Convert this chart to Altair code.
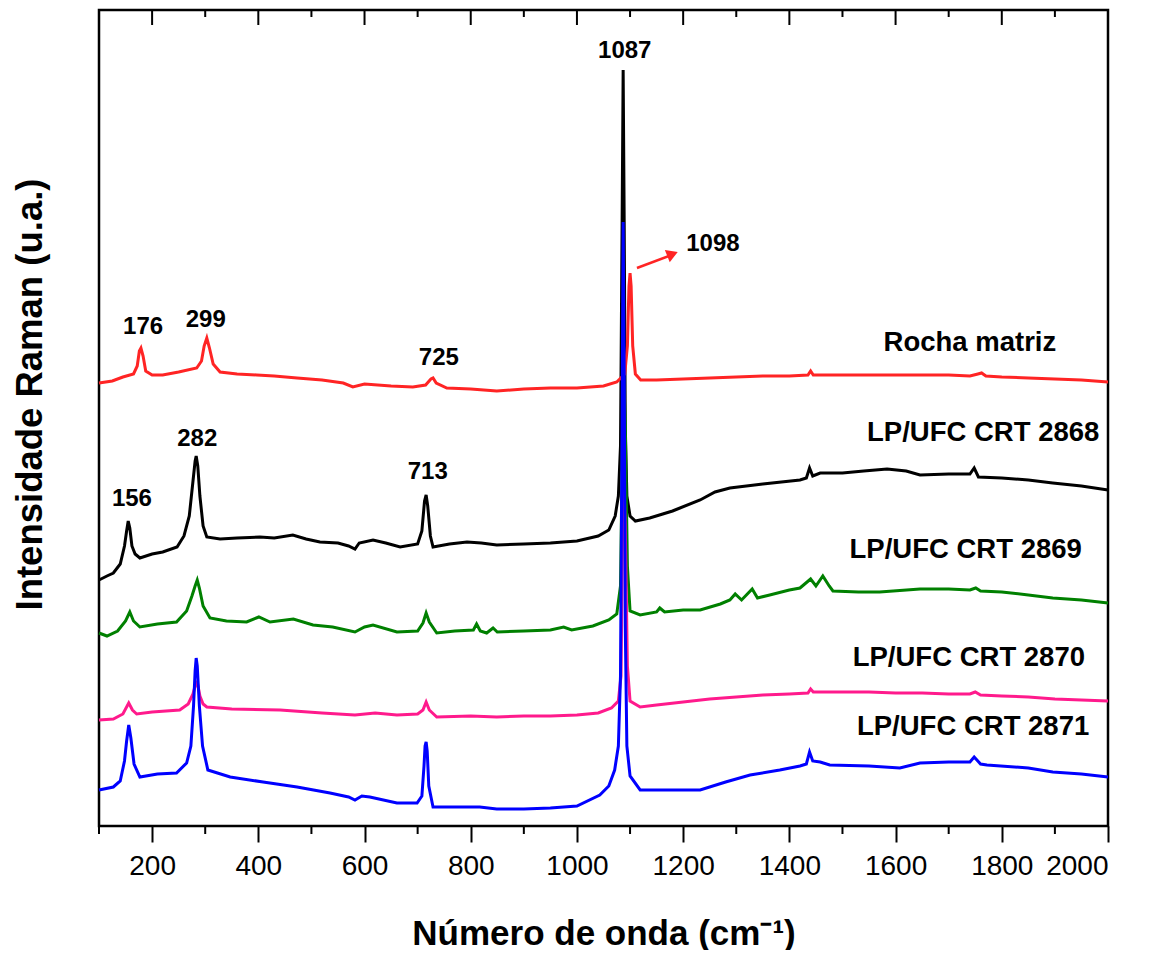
import altair as alt
import pandas as pd

# ---------------- data (wavenumber cm-1, intensity a.u. with vertical offsets) ----------------
red_x = [100, 125, 145, 165, 172, 176, 179, 183, 188, 200, 220, 250, 284, 293, 298, 303, 308, 315, 328, 360,
         397, 430, 473, 520, 560, 578, 600, 650, 691, 715, 725, 729, 735, 755, 800, 849, 900, 950, 1000, 1050,
         1075, 1090, 1095, 1098, 1100, 1102, 1105, 1110, 1120, 1150, 1200, 1250, 1300, 1350, 1400, 1435, 1440,
         1445, 1500, 1550, 1600, 1650, 1700, 1740, 1755, 1762, 1770, 1800, 1850, 1900, 1950, 2000]
red_y = [443, 445, 449, 452, 460, 475, 478, 470, 455, 451, 451, 454, 458, 465, 480, 488, 478, 462, 454, 452,
         451, 450, 448, 446, 443, 439, 442, 440, 439, 441, 447, 448, 443, 438, 437, 435, 437, 438, 438, 440,
         444, 452, 480, 540, 553, 540, 480, 452, 446, 446, 447, 448, 449, 450, 450, 451, 455,
         451, 451, 451, 451, 451, 451, 450, 452, 453, 450, 449, 448, 447, 446, 444]

black_x = [100, 115, 127, 140, 148, 152, 155, 158, 162, 168, 177, 200, 220, 247, 260, 270, 277, 281, 283, 286,
           290, 296, 303, 328, 360, 403, 430, 465, 490, 516, 550, 570, 582, 590, 616, 640, 667, 700, 708, 713,
           716, 719, 724, 729, 760, 793, 820, 849, 900, 950, 1000, 1040, 1060, 1072, 1078, 1082, 1085, 1087,
           1089, 1091, 1094, 1100, 1110, 1137, 1180, 1232, 1260, 1288, 1350, 1420, 1432, 1438, 1444, 1458,
           1500, 1540, 1584, 1620, 1646, 1700, 1740, 1748, 1756, 1800, 1850, 1896, 1950, 2000]
black_y = [246, 250, 253, 262, 280, 295, 305, 298, 280, 272, 268, 272, 274, 279, 290, 310, 345, 365, 370, 360,
           330, 300, 289, 287, 288, 289, 288, 291, 287, 284, 283, 280, 277, 283, 286, 283, 279, 282, 295, 325,
           331, 320, 290, 279, 282, 284, 283, 281, 282, 283, 285, 290, 296, 310, 330, 380, 600, 756,
           600, 400, 330, 310, 305, 308, 315, 326, 334, 338, 342, 346, 348, 358, 350, 353,
           353, 355, 357, 355, 351, 352, 352, 358, 349, 348, 346, 343, 340, 336]

green_x = [100, 115, 135, 150, 158, 165, 177, 210, 246, 265, 275, 281, 285, 289, 296, 309, 340, 378, 401, 422,
           466, 503, 540, 582, 600, 616, 661, 700, 710, 716, 722, 736, 770, 805, 811, 818, 830, 842, 850, 900,
           950, 975, 990, 1030, 1060, 1075, 1082, 1086, 1088, 1091, 1095, 1100, 1119, 1150, 1156, 1165, 1200,
           1232, 1270, 1288, 1298, 1310, 1330, 1340, 1363, 1400, 1420, 1440, 1450, 1463, 1475, 1482, 1530,
           1570, 1646, 1700, 1740, 1751, 1760, 1800, 1850, 1896, 1950, 2000]
green_y = [193, 190, 195, 205, 214, 205, 199, 202, 204, 215, 230, 240, 246, 238, 220, 208, 205, 204, 209, 204,
           207, 201, 199, 194, 199, 201, 194, 195, 203, 213, 204, 193, 195, 196, 202, 195, 193, 198, 194, 195,
           196, 199, 196, 200, 206, 212, 240, 400, 450, 400, 260, 215, 211, 214, 218, 214, 216,
           216, 222, 226, 232, 226, 237, 228, 231, 236, 238, 247, 240, 250, 240, 235, 234,
           234, 237, 237, 236, 238, 235, 234, 231, 228, 226, 223]

pink_x = [100, 127, 145, 156, 163, 171, 200, 252, 268, 277, 282, 285, 290, 296, 303, 350, 441, 520, 582, 620,
          661, 700, 710, 716, 722, 736, 800, 849, 900, 950, 1000, 1040, 1065, 1078, 1083, 1086, 1088, 1091,
          1095, 1100, 1119, 1150, 1200, 1250, 1300, 1350, 1400, 1435, 1440, 1445, 1458, 1500, 1550, 1600,
          1650, 1700, 1740, 1750, 1760, 1800, 1850, 1900, 1950, 2000]
pink_y = [106, 107, 112, 123, 116, 112, 114, 116, 122, 132, 142, 144, 130, 122, 119, 117, 116, 113, 111, 113,
          111, 112, 116, 124, 116, 109, 110, 109, 110, 110, 111, 113, 118, 125, 150, 300, 350, 300,
          160, 125, 119, 121, 124, 127, 129, 131, 132, 133, 137, 134, 134, 134, 134, 133,
          133, 132, 132, 134, 131, 130, 129, 127, 126, 125]

blue_x = [100, 127, 140, 148, 152, 156, 160, 166, 177, 210, 246, 265, 273, 278, 281, 283, 285, 289, 295, 305,
          347, 409, 473, 535, 570, 582, 595, 610, 661, 699, 708, 712, 714, 716, 718, 721, 729, 817, 849, 900,
          950, 1000, 1043, 1060, 1071, 1078, 1082, 1085, 1087, 1089, 1091, 1094, 1100, 1119, 1180, 1232,
          1280, 1326, 1382, 1420, 1432, 1438, 1444, 1458, 1476, 1550, 1608, 1646, 1700, 1740, 1748, 1760,
          1772, 1850, 1896, 1950, 2000]
blue_y = [36, 39, 45, 65, 85, 101, 88, 62, 49, 52, 53, 63, 80, 120, 155, 168, 160, 120, 80, 56,
          49, 44, 39, 33, 29, 26, 30, 29, 23, 23, 30, 60, 80, 84, 75, 40, 19, 19, 17, 17,
          18, 20, 31, 40, 56, 80, 150, 400, 604, 450, 200, 80, 50, 36, 36, 36,
          44, 51, 56, 60, 62, 74, 65, 64, 61, 60, 58, 63, 64, 64, 69, 62,
          61, 58, 54, 52, 49]

series_names = ["LP/UFC CRT 2868", "LP/UFC CRT 2869", "LP/UFC CRT 2870", "Rocha matriz", "LP/UFC CRT 2871"]
series_colors = ["#000000", "#008000", "#ff1a8c", "#ff2424", "#0000ff"]
series_x = [black_x, green_x, pink_x, red_x, blue_x]
series_y = [black_y, green_y, pink_y, red_y, blue_y]

# labels of the curves
label_text = ["Rocha matriz", "LP/UFC CRT 2868", "LP/UFC CRT 2869", "LP/UFC CRT 2870", "LP/UFC CRT 2871"]
label_x = [1740, 1765, 1732, 1738, 1746]
label_y = [483, 393, 276, 168, 99]

# peak annotations
peak_text = ["176", "299", "725", "282", "156", "713", "1087", "1098"]
peak_x = [183, 301, 740, 285, 162, 719, 1090, 1256]
peak_y = [499, 506, 468, 387, 327, 354, 775, 582]

# arrow pointing to the 1098 band
arrow_x = [1113]
arrow_x2 = [1183]
arrow_y = [558]
arrow_y2 = [572]
arrowhead_x = [1180]
arrowhead_y = [572]

major_ticks = [200, 400, 600, 800, 1000, 1200, 1400, 1600, 1800, 2000]
minor_ticks = [100, 300, 500, 700, 900, 1100, 1300, 1500, 1700, 1900]

FONT = "Liberation Sans"
W, H = 1009, 816

xscale = alt.Scale(domain=[100, 2000], nice=False, zero=False)
yscale = alt.Scale(domain=[0, 816], nice=False, zero=False)

x_axis = alt.Axis(title="Número de onda (cm⁻¹)", values=major_ticks, format="d",
                  grid=False, domain=False, tickSize=16, tickWidth=2, tickColor="black",
                  labelFont=FONT, labelFontSize=28, labelColor="black", labelPadding=10,
                  titleFont=FONT, titleFontSize=35, titleFontWeight="bold",
                  titleColor="black", titlePadding=36)
y_axis = alt.Axis(title="Intensidade Raman (u.a.)", labels=False, ticks=False,
                  domain=False, grid=False, titleFont=FONT, titleFontSize=36.5,
                  titleFontWeight="bold", titleColor="black", titleX=-69,
                  titleY=384, titleBaseline="middle")


def X(field):
    return alt.X(field, scale=xscale, axis=x_axis)


def Y(field):
    return alt.Y(field, scale=yscale, axis=y_axis)


layers = []
for name, col, xs, ys in zip(series_names, series_colors, series_x, series_y):
    df = pd.DataFrame({"x": xs, "y": ys, "serie": name})
    layers.append(alt.Chart(df).mark_line(color=col, strokeWidth=3, interpolate="linear").encode(
        x=X("x:Q"), y=Y("y:Q"), order="x:Q"))

# tick marks drawn as rules (minor bottom, top inward)
mj = pd.DataFrame({"x": major_ticks})
mn = pd.DataFrame({"x": minor_ticks})
layers.append(alt.Chart(mn).mark_rule(color="black", strokeWidth=2).encode(
    x=X("x:Q"), y=alt.value(H), y2=alt.value(H + 8)))
layers.append(alt.Chart(mj).mark_rule(color="black", strokeWidth=2).encode(
    x=X("x:Q"), y=alt.value(0), y2=alt.value(15)))
layers.append(alt.Chart(mn).mark_rule(color="black", strokeWidth=2).encode(
    x=X("x:Q"), y=alt.value(0), y2=alt.value(7)))

# curve labels
ldf = pd.DataFrame({"x": label_x, "y": label_y, "t": label_text})
layers.append(alt.Chart(ldf).mark_text(font=FONT, fontSize=27.5, fontWeight="bold", color="black",
                                       align="center", baseline="middle").encode(
    x=X("x:Q"), y=Y("y:Q"), text="t:N"))

# peak labels
pdf = pd.DataFrame({"x": peak_x, "y": peak_y, "t": peak_text})
layers.append(alt.Chart(pdf).mark_text(font=FONT, fontSize=24, fontWeight="bold", color="black",
                                       align="center", baseline="middle").encode(
    x=X("x:Q"), y=Y("y:Q"), text="t:N"))

# arrow
adf = pd.DataFrame({"x": arrow_x, "x2": arrow_x2, "y": arrow_y, "y2": arrow_y2})
layers.append(alt.Chart(adf).mark_rule(color="#ff2424", strokeWidth=2.5).encode(
    x=X("x:Q"), x2="x2:Q", y=Y("y:Q"), y2="y2:Q"))
hdf = pd.DataFrame({"x": arrowhead_x, "y": arrowhead_y})
layers.append(alt.Chart(hdf).mark_point(shape="triangle-right", filled=True, color="#ff2424",
                                        size=170, angle=338, opacity=1).encode(
    x=X("x:Q"), y=Y("y:Q")))

chart = alt.layer(*layers).properties(
    width=W, height=H,
    autosize=alt.AutoSizeParams(type="none"),
    padding={"left": 91, "top": 2, "right": 36, "bottom": 124},
).configure_view(stroke="#000000", strokeWidth=2.5, strokeOpacity=1)

chart.save("out.html", embed_options={"renderer": "svg", "actions": False})
